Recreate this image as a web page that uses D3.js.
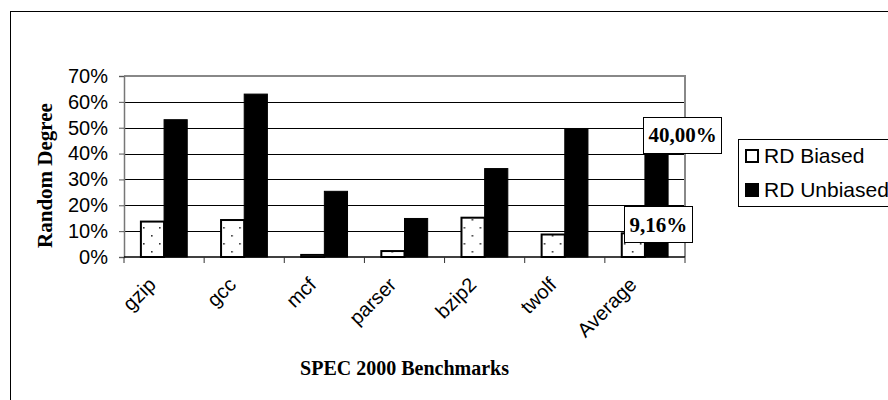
<!DOCTYPE html>
<html>
<head>
<meta charset="utf-8">
<script src="https://cdn.jsdelivr.net/npm/d3@7"></script>
<style>
  body { margin: 0; background: #fff; overflow: hidden; }
  svg { display: block; }
</style>
</head>
<body>
<svg id="chart" width="888" height="400"></svg>
<script>
const categories = ['gzip', 'gcc', 'mcf', 'parser', 'bzip2', 'twolf', 'Average'];
const rdBiased = [13.7, 14.3, 0.8, 2.3, 15.2, 8.7, 9.16];
const rdUnbiased = [53.1, 63.0, 25.4, 14.9, 34.2, 49.7, 40.0];
const seriesNames = ['RD Biased', 'RD Unbiased'];
const yTicks = [0, 10, 20, 30, 40, 50, 60, 70];
// only the Average bars carry a value label
const labelIndex = 6;

const sans = '"Liberation Sans", Arial, sans-serif';
const serif = '"Liberation Serif", "Times New Roman", serif';

const svg = d3.select('#chart');
const plot = {left: 124, right: 685, top: 76, bottom: 257};

// dotted fill for the biased bars
const defs = svg.append('defs');
const pat = defs.append('pattern')
  .attr('id', 'dots')
  .attr('patternUnits', 'userSpaceOnUse')
  .attr('width', 16)
  .attr('height', 16);
pat.append('rect').attr('width', 16).attr('height', 16).attr('fill', '#fff');
pat.append('rect').attr('x', 3).attr('y', 3).attr('width', 1.6).attr('height', 1.6).attr('fill', '#333');
pat.append('rect').attr('x', 11).attr('y', 11).attr('width', 1.6).attr('height', 1.6).attr('fill', '#333');

// outer frame (right and bottom edges fall outside the picture)
svg.append('rect')
  .attr('x', 10.5).attr('y', 11.5)
  .attr('width', 960).attr('height', 440)
  .attr('fill', 'none')
  .attr('stroke', '#000');

const x = d3.scaleBand()
  .domain(categories)
  .range([plot.left, plot.right]);

const xInner = d3.scaleBand()
  .domain(seriesNames)
  .range([0, x.bandwidth()])
  .paddingOuter(0.73)
  .paddingInner(0);

const y = d3.scaleLinear()
  .domain([0, 70])
  .range([plot.bottom, plot.top]);

// gridlines
svg.append('g')
  .selectAll('line')
  .data(yTicks.slice(1, -1))
  .enter()
  .append('line')
  .attr('x1', plot.left)
  .attr('x2', plot.right)
  .attr('y1', d => Math.round(y(d)) + 0.5)
  .attr('y2', d => Math.round(y(d)) + 0.5)
  .attr('stroke', '#000');

// plot border (top & right, grey)
svg.append('path')
  .attr('d', `M${plot.left},${y(70)}H${plot.right}V${plot.bottom}`)
  .attr('fill', 'none')
  .attr('stroke', '#888')
  .attr('stroke-width', 2);

// bars
const groups = svg.append('g')
  .selectAll('g')
  .data(categories)
  .enter()
  .append('g')
  .attr('transform', d => 'translate(' + x(d) + ',0)');

groups.append('rect')
  .attr('x', d => xInner('RD Biased'))
  .attr('y', (d, i) => y(rdBiased[i]))
  .attr('width', xInner.bandwidth())
  .attr('height', (d, i) => y(0) - y(rdBiased[i]))
  .attr('fill', 'url(#dots)')
  .attr('stroke', '#000')
  .attr('stroke-width', 2);

groups.append('rect')
  .attr('x', d => xInner('RD Unbiased'))
  .attr('y', (d, i) => y(rdUnbiased[i]))
  .attr('width', xInner.bandwidth())
  .attr('height', (d, i) => y(0) - y(rdUnbiased[i]))
  .attr('fill', '#000')
  .attr('stroke', '#000')
  .attr('stroke-width', 1);

// y axis
const yAxis = svg.append('g')
  .attr('transform', 'translate(' + plot.left + ',0)')
  .call(d3.axisLeft(y).tickValues(yTicks).tickSize(5).tickPadding(11).tickFormat(d => d + '%'));
yAxis.select('.domain').attr('stroke', '#777').attr('stroke-width', 1.5);
yAxis.selectAll('.tick line').attr('stroke', '#555');
yAxis.selectAll('text')
  .attr('font-family', sans)
  .attr('font-size', 20)
  .attr('fill', '#000');

// x axis
const xAxis = svg.append('g')
  .attr('transform', 'translate(0,' + plot.bottom + ')');
xAxis.append('line')
  .attr('x1', plot.left).attr('x2', plot.right)
  .attr('stroke', '#000').attr('stroke-width', 1.5);
xAxis.selectAll('.tk')
  .data(categories.concat(['end']))
  .enter()
  .append('line')
  .attr('x1', (d, i) => plot.left + i * x.step())
  .attr('x2', (d, i) => plot.left + i * x.step())
  .attr('y1', 0).attr('y2', 6)
  .attr('stroke', '#333');

xAxis.selectAll('.lbl')
  .data(categories)
  .enter()
  .append('text')
  .attr('transform', d => 'translate(' + (x(d) + x.bandwidth() / 2 - 7) + ',29) rotate(-45)')
  .attr('text-anchor', 'end')
  .attr('font-family', sans)
  .attr('font-size', 20)
  .text(d => d);

// axis titles
svg.append('text')
  .attr('transform', 'translate(52,' + ((plot.top + 18 + plot.bottom) / 2) + ') rotate(-90)')
  .attr('text-anchor', 'middle')
  .attr('font-family', serif)
  .attr('font-weight', 'bold')
  .attr('font-size', 21)
  .text('Random Degree');

svg.append('text')
  .attr('x', (plot.left + plot.right) / 2)
  .attr('y', 375)
  .attr('text-anchor', 'middle')
  .attr('font-family', serif)
  .attr('font-weight', 'bold')
  .attr('font-size', 20)
  .text('SPEC 2000 Benchmarks');

// data labels on Average
function dataLabel(cx, cy, txt) {
  const g = svg.append('g');
  const t = g.append('text')
    .attr('x', cx)
    .attr('y', cy)
    .attr('dy', '0.35em')
    .attr('text-anchor', 'middle')
    .attr('font-family', serif)
    .attr('font-weight', 'bold')
    .attr('font-size', 21)
    .text(txt);
  const w = t.node().getComputedTextLength() + 10;
  g.insert('rect', 'text')
    .attr('x', Math.round(cx - w / 2) + 0.5)
    .attr('y', Math.round(cy - 18) + 0.5)
    .attr('width', Math.round(w))
    .attr('height', 36)
    .attr('fill', '#fff')
    .attr('stroke', '#000');
}
const avg = categories[labelIndex];
dataLabel(x(avg) + xInner('RD Unbiased') + xInner.bandwidth() / 2 + 26, y(rdUnbiased[labelIndex]) - 19,
  rdUnbiased[labelIndex].toFixed(2).replace('.', ',') + '%');
dataLabel(x(avg) + xInner('RD Biased') + xInner.bandwidth() / 2 + 25, y(rdBiased[labelIndex]) - 9,
  rdBiased[labelIndex].toFixed(2).replace('.', ',') + '%');

// legend, its right edge is cut off by the picture
const legend = svg.append('g').attr('transform', 'translate(738,139)');
legend.append('rect')
  .attr('x', 0.5).attr('y', 0.5)
  .attr('width', 300).attr('height', 67)
  .attr('fill', '#fff')
  .attr('stroke', '#000');
const items = legend.selectAll('.item')
  .data(seriesNames)
  .enter()
  .append('g')
  .attr('transform', (d, i) => 'translate(0,' + (i * 34) + ')');
items.append('rect')
  .attr('x', 8).attr('y', 11)
  .attr('width', 12).attr('height', 12)
  .attr('fill', (d, i) => i === 0 ? '#fff' : '#000')
  .attr('stroke', '#000')
  .attr('stroke-width', 2);
items.append('text')
  .attr('x', 26)
  .attr('y', 24)
  .attr('font-family', sans)
  .attr('font-size', 21)
  .text(d => d);
</script>
</body>
</html>
